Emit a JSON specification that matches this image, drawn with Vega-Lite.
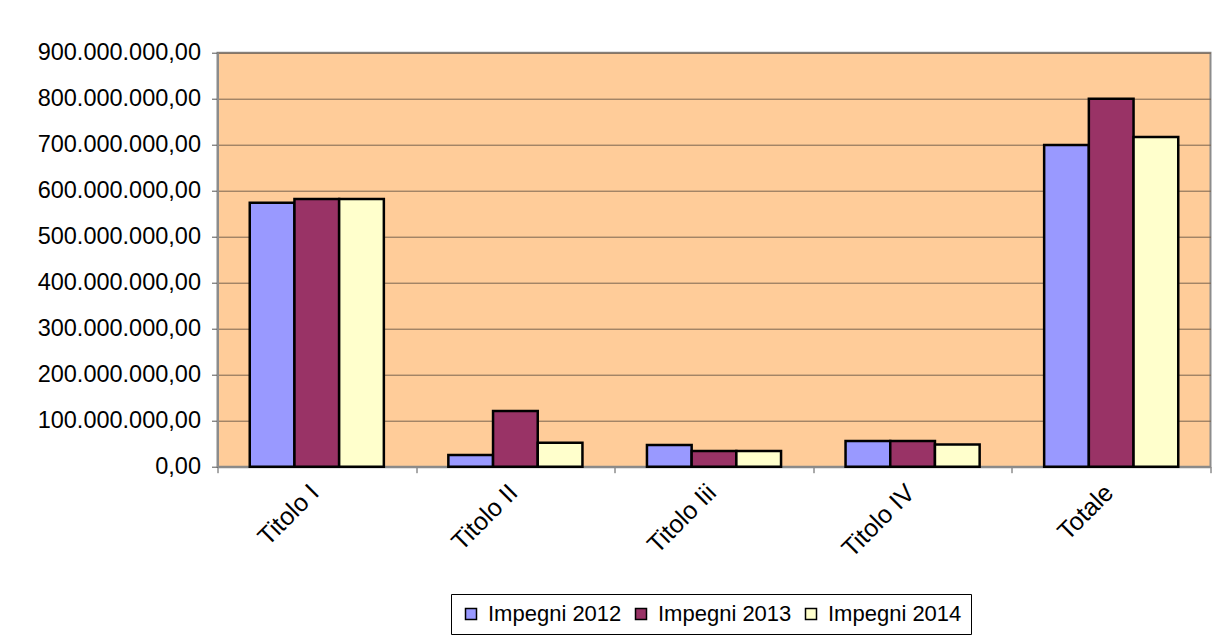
{
  "$schema": "https://vega.github.io/schema/vega-lite/v6.json",
  "autosize": {"type": "none"},
  "width": 993,
  "height": 414,
  "padding": {"left": 217.5, "top": 52.7, "right": 8.5, "bottom": 170.3},
  "background": "white",
  "config": {
    "locale": {"number": {"decimal": ",", "thousands": ".", "grouping": [3], "currency": ["€", ""]}},
    "font": "Liberation Sans",
    "view": {"fill": "#FFCC99", "stroke": "#8c8c8c", "strokeWidth": 2},
    "axis": {"labelFont": "Liberation Sans", "labelColor": "#000000", "labelFontSize": 23.5},
    "legend": {"labelFont": "Liberation Sans", "labelColor": "#000000"}
  },
  "data": {
    "values": [
      {"categoria": "Titolo I", "anno": "Impegni 2012", "valore": 574000000},
      {"categoria": "Titolo I", "anno": "Impegni 2013", "valore": 582000000},
      {"categoria": "Titolo I", "anno": "Impegni 2014", "valore": 582000000},
      {"categoria": "Titolo II", "anno": "Impegni 2012", "valore": 25500000},
      {"categoria": "Titolo II", "anno": "Impegni 2013", "valore": 121000000},
      {"categoria": "Titolo II", "anno": "Impegni 2014", "valore": 52000000},
      {"categoria": "Titolo Iii", "anno": "Impegni 2012", "valore": 47000000},
      {"categoria": "Titolo Iii", "anno": "Impegni 2013", "valore": 34000000},
      {"categoria": "Titolo Iii", "anno": "Impegni 2014", "valore": 34000000},
      {"categoria": "Titolo IV", "anno": "Impegni 2012", "valore": 56000000},
      {"categoria": "Titolo IV", "anno": "Impegni 2013", "valore": 56000000},
      {"categoria": "Titolo IV", "anno": "Impegni 2014", "valore": 48000000},
      {"categoria": "Totale", "anno": "Impegni 2012", "valore": 699500000},
      {"categoria": "Totale", "anno": "Impegni 2013", "valore": 800000000},
      {"categoria": "Totale", "anno": "Impegni 2014", "valore": 716500000}
    ]
  },
  "mark": {"type": "bar", "stroke": "#000000", "strokeWidth": 2.5},
  "encoding": {
    "x": {
      "field": "categoria",
      "type": "nominal",
      "sort": ["Titolo I", "Titolo II", "Titolo Iii", "Titolo IV", "Totale"],
      "scale": {"paddingInner": 0, "paddingOuter": 0},
      "axis": {
        "title": null,
        "tickBand": "extent",
        "grid": false,
        "labelAngle": -45,
        "labelAlign": "right",
        "labelBaseline": "top",
        "labelOffset": -11,
        "labelPadding": 7,
        "labelFontSize": 25,
        "tickSize": 6,
        "tickColor": "#555555",
        "domainColor": "#8c8c8c",
        "domainWidth": 2
      }
    },
    "xOffset": {
      "field": "anno",
      "type": "nominal",
      "scale": {"paddingInner": 0, "paddingOuter": 0.7215}
    },
    "y": {
      "field": "valore",
      "type": "quantitative",
      "scale": {"domain": [0, 900000000], "nice": false},
      "axis": {
        "title": null,
        "values": [0, 100000000, 200000000, 300000000, 400000000, 500000000, 600000000, 700000000, 800000000, 900000000],
        "format": ",.2f",
        "grid": true,
        "gridColor": "#7a6450",
        "gridWidth": 1,
        "tickSize": 6,
        "tickColor": "#555555",
        "labelPadding": 11,
        "domainColor": "#8c8c8c",
        "domainWidth": 2
      }
    },
    "color": {
      "field": "anno",
      "type": "nominal",
      "scale": {"domain": ["Impegni 2012", "Impegni 2013", "Impegni 2014"], "range": ["#9999FF", "#993366", "#FFFFCC"]},
      "legend": {
        "title": null,
        "orient": "none",
        "legendX": 233.5,
        "legendY": 541.3,
        "direction": "horizontal",
        "columns": 3,
        "strokeColor": "#000000",
        "fillColor": "#FFFFFF",
        "padding": 9,
        "symbolType": "square",
        "symbolSize": 121,
        "symbolStrokeColor": "#000000",
        "symbolStrokeWidth": 1.5,
        "labelFontSize": 22,
        "labelOffset": 6,
        "columnPadding": 8
      }
    }
  }
}
